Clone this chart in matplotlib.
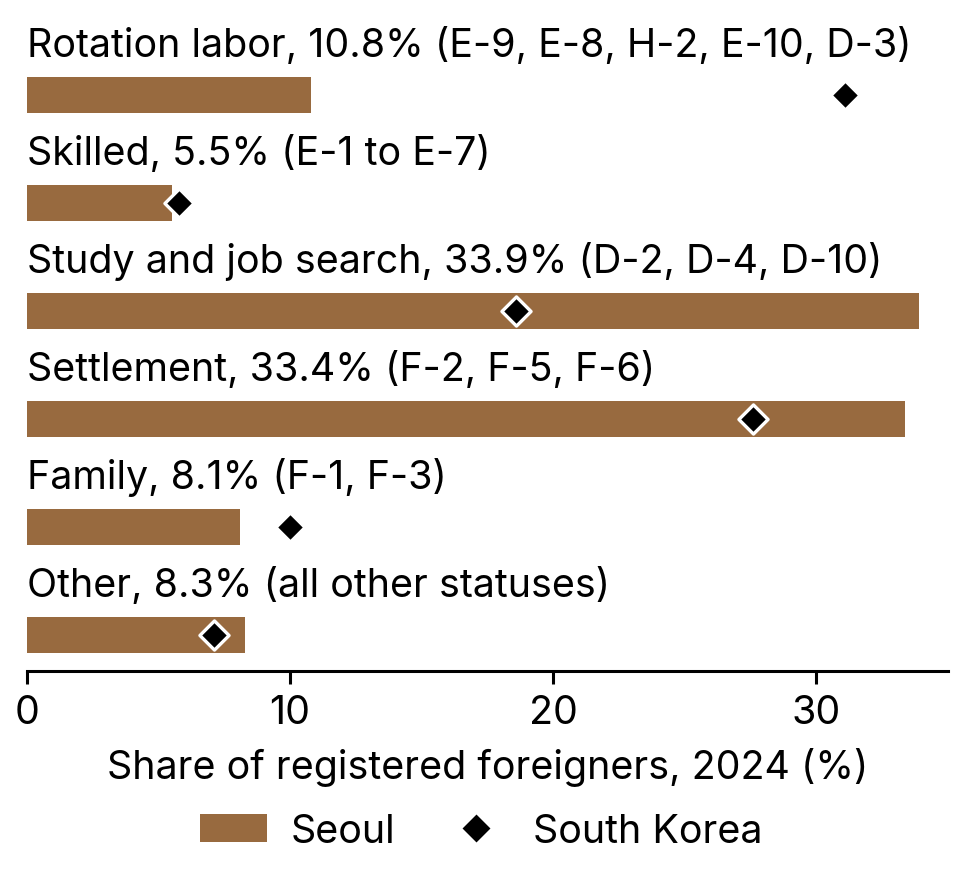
import matplotlib.pyplot as plt
from matplotlib.lines import Line2D
from matplotlib.patches import Patch

plt.rcParams['font.family'] = ['Inter', 'DejaVu Sans']

categories = ["Rotation labor", "Skilled", "Study and job search", "Settlement", "Family", "Other"]
visas = ["(E-9, E-8, H-2, E-10, D-3)", "(E-1 to E-7)", "(D-2, D-4, D-10)",
         "(F-2, F-5, F-6)", "(F-1, F-3)", "(all other statuses)"]
seoul = [10.8, 5.5, 33.9, 33.4, 8.1, 8.3]
korea = [31.1, 5.8, 18.6, 27.6, 10.0, 7.1]

bar_color = "#986A3F"
fs = 14.2

fig = plt.figure(figsize=(4.81, 4.35), dpi=200)
ax = fig.add_axes([0.028, 0.2276, 0.957, 0.7724])

ypos = list(range(len(categories)))
ax.barh(ypos, seoul, height=0.333, color=bar_color, zorder=2)
ax.scatter(korea, ypos, marker='D', s=55, color='black', edgecolor='white',
           linewidth=1.2, zorder=3)

for y, cat, v, vis in zip(ypos, categories, seoul, visas):
    ax.text(0, y - 0.36, f"{cat}, {v}% {vis}", fontsize=fs, ha='left', va='baseline')

ax.set_xlim(0, 35)
ax.set_ylim(5.333, -0.889)
ax.set_yticks([])
ax.set_xticks([0, 10, 20, 30])
ax.tick_params(axis='x', labelsize=fs, length=4.7, width=1.1)
for s in ['top', 'right', 'left']:
    ax.spines[s].set_visible(False)
ax.spines['bottom'].set_linewidth(1.1)
ax.set_xlabel("Share of registered foreigners, 2024 (%)", fontsize=fs, labelpad=6)

handles = [Patch(facecolor=bar_color, label='Seoul'),
           Line2D([], [], marker='D', color='black', linestyle='none', markersize=6,
                  label='South Korea')]
fig.legend(handles=handles, loc='center', bbox_to_anchor=(0.5, 0.043), ncol=2,
           frameon=False, fontsize=fs, handlelength=1.7, handletextpad=0.6,
           columnspacing=1.2)

fig.savefig('out.png', dpi=200)
